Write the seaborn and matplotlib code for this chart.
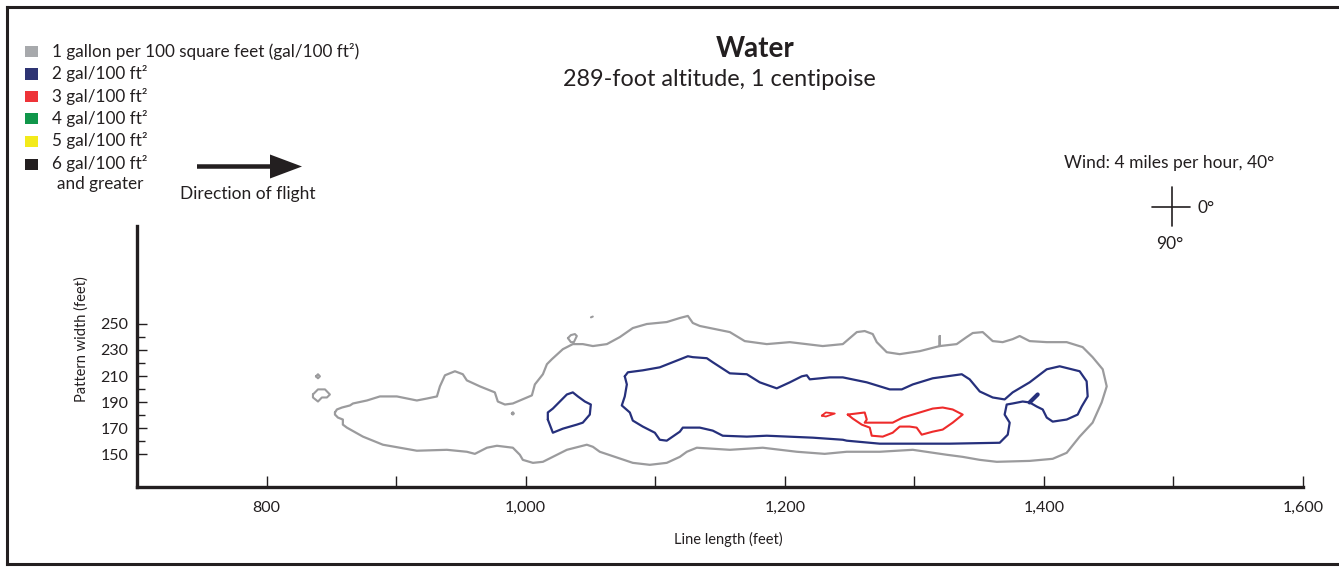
import matplotlib
matplotlib.use("Agg")
import matplotlib.pyplot as plt
from matplotlib.patches import Rectangle, FancyArrow
from matplotlib.lines import Line2D
from matplotlib.ticker import FuncFormatter
import seaborn as sns

# ---------------------------------------------------------------------------
# Deposit contours, (line length ft, pattern width ft)
# ---------------------------------------------------------------------------
gal1_main = [
    (852.8, 182.1), (854.3, 184.4), (858.2, 185.9), (864.4, 187.5), (866.7, 189.0),
    (877.5, 191.3), (887.5, 194.4), (900.6, 194.4), (916.0, 191.3), (923.8, 192.8),
    (931.5, 194.4), (933.8, 202.1), (937.7, 210.6), (945.4, 213.7), (951.5, 211.4),
    (954.6, 206.7), (964.7, 202.1), (976.2, 197.5), (978.5, 190.5), (984.0, 188.2),
    (990.1, 189.0), (1004.8, 195.2), (1007.1, 203.6), (1013.3, 211.4), (1016.4, 219.1),
    (1020.2, 222.9), (1028.7, 230.6), (1036.4, 234.5), (1044.1, 234.5), (1051.9, 233.0),
    (1062.7, 234.5), (1072.7, 239.9), (1082.7, 246.8), (1093.5, 249.9), (1108.9, 251.4),
    (1119.0, 254.5), (1125.2, 256.1), (1129.0, 250.7), (1134.4, 248.4), (1157.6, 243.7),
    (1169.1, 236.8), (1186.1, 234.5), (1203.9, 236.0), (1229.3, 233.0), (1244.8, 234.5),
    (1255.6, 243.7), (1261.7, 244.5), (1267.9, 242.2), (1271.0, 236.0), (1278.7, 228.3),
    (1288.7, 226.8), (1304.2, 229.1), (1319.6, 233.0), (1319.6, 240.7), (1319.6, 233.0),
    (1332.7, 234.5), (1340.4, 239.9), (1345.1, 243.0), (1352.8, 243.7), (1360.5, 236.8),
    (1368.2, 236.0), (1375.9, 238.3), (1381.3, 240.7), (1389.0, 236.8), (1402.2, 236.0),
    (1417.6, 236.0), (1429.9, 232.2), (1437.6, 224.5), (1445.4, 215.2), (1448.5, 202.1),
    (1444.6, 189.8), (1437.6, 174.3), (1427.6, 163.6), (1417.6, 151.2), (1406.8, 146.6),
    (1389.0, 145.0), (1363.6, 144.3), (1350.5, 145.8), (1337.3, 148.1), (1325.0, 149.7),
    (1298.8, 153.5), (1273.3, 152.0), (1247.8, 152.0), (1230.8, 150.4), (1209.3, 152.0),
    (1183.0, 155.1), (1157.6, 153.5), (1132.1, 155.1), (1124.4, 152.0), (1119.0, 148.1),
    (1108.9, 143.5), (1095.8, 142.0), (1082.7, 143.5), (1057.2, 152.0), (1051.9, 155.8),
    (1047.2, 157.4), (1031.8, 153.5), (1013.3, 144.3), (1005.6, 143.5), (997.8, 145.8),
    (995.5, 149.7), (990.1, 155.1), (977.8, 156.6), (970.1, 155.1), (960.8, 150.4),
    (954.6, 152.0), (939.2, 153.5), (916.0, 152.8), (902.9, 155.1), (889.8, 157.4),
    (874.4, 163.6), (862.0, 170.5), (858.9, 172.8), (858.9, 176.7), (855.1, 178.2),
    (852.8, 180.5),
]
gal1_islands = [
    [(835.8, 195.9), (839.7, 199.8), (845.1, 199.8), (848.9, 195.9), (846.6, 193.6),
     (842.7, 193.6), (839.7, 190.5), (835.8, 193.6)],
    [(838.1, 209.8), (839.7, 211.4), (841.2, 209.8), (839.7, 208.3)],
    [(989.3, 181.3), (990.1, 182.3), (990.9, 181.3), (990.1, 180.5)],
    [(1032.6, 239.1), (1034.9, 241.4), (1038.0, 242.2), (1039.5, 240.7), (1037.2, 236.0),
     (1034.9, 236.0)],
    [(1050.4, 255.0), (1051.8, 255.6)],
]

gal2_main = [
    (1076.5, 209.8), (1078.9, 212.9), (1090.4, 214.4), (1103.5, 216.7), (1125.2, 225.2),
    (1129.0, 224.5), (1139.8, 223.7), (1144.4, 220.6), (1157.6, 212.1), (1170.7, 211.4),
    (1180.7, 205.2), (1193.8, 200.6), (1203.9, 205.2), (1213.1, 209.8), (1217.0, 210.6),
    (1219.3, 207.5), (1234.7, 209.0), (1244.8, 209.0), (1263.3, 205.2), (1281.0, 199.8),
    (1290.3, 199.8), (1298.8, 203.6), (1314.2, 208.3), (1336.6, 211.4), (1342.7, 207.5),
    (1350.5, 198.2), (1360.5, 193.6), (1369.7, 192.1), (1375.9, 197.5), (1389.0, 205.2),
    (1402.2, 215.2), (1412.2, 217.5), (1427.6, 213.7), (1433.0, 206.0), (1433.8, 194.4),
    (1429.2, 186.7), (1426.1, 180.5), (1417.6, 176.7), (1406.8, 175.1), (1402.2, 178.2),
    (1399.1, 184.4), (1394.4, 186.7), (1389.0, 189.8), (1383.6, 190.5), (1375.9, 189.0),
    (1371.3, 188.2), (1369.7, 180.5), (1373.6, 174.3), (1372.1, 165.1), (1365.9, 158.9),
    (1327.3, 158.2), (1273.3, 158.2), (1247.8, 160.5), (1244.8, 161.2), (1221.6, 162.8),
    (1186.1, 164.3), (1170.7, 163.6), (1152.1, 164.3), (1144.4, 168.2), (1134.4, 170.5),
    (1121.3, 170.5), (1119.0, 167.4), (1108.9, 160.5), (1103.5, 161.2), (1099.7, 166.6),
    (1090.4, 171.3), (1082.7, 175.9), (1080.4, 182.1), (1074.2, 187.5), (1076.5, 194.4),
    (1078.1, 203.6),
]
gal2_left = [
    (1017.1, 176.7), (1021.0, 166.6), (1028.7, 169.7), (1039.5, 172.8), (1044.1, 174.3),
    (1049.5, 180.5), (1050.3, 188.2), (1045.7, 190.5), (1040.3, 194.4), (1036.4, 197.5),
    (1031.8, 195.9), (1026.4, 190.5), (1021.0, 185.1), (1017.1, 182.1),
]
gal2_stub = [(1389.0, 189.8), (1395.2, 195.9)]

gal3_main = [
    (1248.6, 180.5), (1261.7, 182.1), (1263.3, 176.7), (1261.7, 174.3), (1275.6, 174.3),
    (1283.3, 174.3), (1291.0, 178.2), (1298.8, 180.5), (1314.2, 185.1), (1321.9, 185.9),
    (1329.6, 184.4), (1337.3, 180.5), (1329.6, 174.3), (1321.9, 169.0), (1314.2, 167.4),
    (1305.7, 165.1), (1301.8, 170.5), (1296.4, 171.3), (1288.7, 171.3), (1283.3, 166.6),
    (1275.6, 163.6), (1267.1, 164.3), (1265.6, 170.5), (1259.4, 172.8), (1252.5, 177.4),
]
gal3_small = [(1228.6, 179.7), (1231.7, 182.1), (1238.6, 181.3), (1231.7, 179.0)]

# Axis ticks
x_major = [800, 1000, 1200, 1400, 1600]
x_minor = [900, 1100, 1300, 1500]
y_major = [150, 170, 190, 210, 230, 250]
y_minor = [160, 180, 200, 220, 240]

# Legend
legend_labels = [
    "1 gallon per 100 square feet (gal/100 ft²)",
    "2 gal/100 ft²",
    "3 gal/100 ft²",
    "4 gal/100 ft²",
    "5 gal/100 ft²",
    "6 gal/100 ft²",
]
legend_colors = ["#a7a9ac", "#2e3473", "#ee3338", "#10964a", "#f3ea1a", "#231f20"]

GRAY = "#9b9b9d"
NAVY = "#26307c"
RED = "#ee2b2b"
INK = "#231f20"

# ---------------------------------------------------------------------------
sns.set_theme(style="white")
plt.rcParams["font.family"] = ["Lato", "DejaVu Sans"]

W, H = 1339, 567
fig = plt.figure(figsize=(W / 100, H / 100), dpi=100)
fig.patch.set_facecolor("white")


def fx(px):
    return px / W


def fy(py):
    return 1 - py / H


ax = fig.add_axes([fx(137), fy(487), (1303 - 137) / W, (487 - 226) / H])
ax.set_facecolor("white")


def trace(points, color, lw, closed=True):
    xs = [p[0] for p in points]
    ys = [p[1] for p in points]
    if closed:
        xs.append(xs[0])
        ys.append(ys[0])
    sns.lineplot(x=xs, y=ys, sort=False, estimator=None, color=color,
                 linewidth=lw, ax=ax, legend=False)


trace(gal1_main, GRAY, 1.6)
for isl in gal1_islands[:-1]:
    trace(isl, GRAY, 1.5)
trace(gal1_islands[-1], GRAY, 1.5, closed=False)
trace(gal2_main, NAVY, 1.6)
trace(gal2_left, NAVY, 1.6)
trace(gal2_stub, NAVY, 3.0, closed=False)
trace(gal3_main, RED, 1.5)
trace(gal3_small, RED, 1.3)

ax.set_xlim(700, 1600)
ax.set_ylim(125, 325)

for s in ("top", "right"):
    ax.spines[s].set_visible(False)
for s in ("left", "bottom"):
    ax.spines[s].set_linewidth(2.4)
    ax.spines[s].set_color(INK)

ax.set_xticks(x_major)
ax.set_xticks(x_minor, minor=True)
ax.set_yticks(y_major)
ax.set_yticks(y_minor, minor=True)
ax.xaxis.set_major_formatter(FuncFormatter(lambda v, _: f"{v:,.0f}"))
ax.tick_params(axis="both", which="both", direction="in", bottom=True, left=True,
               color=INK, width=1.0, labelcolor=INK)
ax.tick_params(axis="x", which="both", length=8, pad=10, labelsize=11.5)
ax.tick_params(axis="y", which="major", length=7.5, pad=6, labelsize=11.5)
ax.tick_params(axis="y", which="minor", length=6)

ax.set_xlabel("Line length (feet)", fontsize=10.5, color=INK)
ax.xaxis.set_label_coords((728 - 137) / (1303 - 137), (487 - 532) / (487 - 226))
ax.set_ylabel("Pattern width (feet)", fontsize=10.5, color=INK)
ax.yaxis.set_label_coords((89 - 137) / (1303 - 137), (487 - 339) / (487 - 226))

# Title
fig.text(fx(755), fy(57), "Water", ha="center", va="baseline",
         fontsize=20, fontweight="bold", color=INK)
fig.text(fx(719), fy(86), "289-foot altitude, 1 centipoise", ha="center",
         va="baseline", fontsize=16.8, color=INK)

# Legend
centers = [51.5, 74, 96.7, 118.7, 141.3, 164.3]
for cy, col, lab in zip(centers, legend_colors, legend_labels):
    fig.patches.append(Rectangle((fx(25), fy(cy + 5.5)), 13 / W, 11 / H,
                                 transform=fig.transFigure, facecolor=col,
                                 edgecolor="none"))
    fig.text(fx(52), fy(cy + 5), lab, ha="left", va="baseline",
             fontsize=12.3, color=INK)
fig.text(fx(57), fy(189), "and greater", ha="left", va="baseline",
         fontsize=12.3, color=INK)

# Flight direction arrow
fig.patches.append(FancyArrow(fx(197), fy(166.5), (270 - 197) / W, 0,
                              width=4.5 / H, head_width=24 / H,
                              head_length=32 / W, length_includes_head=False,
                              transform=fig.transFigure, color=INK, lw=0))
fig.text(fx(248), fy(199), "Direction of flight", ha="center", va="baseline",
         fontsize=12.5, color=INK)

# Wind indicator
fig.text(fx(1169), fy(168), "Wind: 4 miles per hour, 40°", ha="center",
         va="baseline", fontsize=12.5, color=INK)
fig.add_artist(Line2D([fx(1152), fx(1190)], [fy(207), fy(207)],
                      transform=fig.transFigure, color=INK, lw=1.2))
fig.add_artist(Line2D([fx(1171.5), fx(1171.5)], [fy(187), fy(226)],
                      transform=fig.transFigure, color=INK, lw=1.2))
fig.text(fx(1197), fy(208), "0°", ha="left", va="center", fontsize=12.5, color=INK)
fig.text(fx(1170), fy(249), "90°", ha="center", va="baseline", fontsize=12.5, color=INK)

# Panel border
for xs, ys in (([7, 7], [7, 564]), ([7, W], [7, 7]), ([7, W], [564, 564])):
    fig.add_artist(Line2D([fx(v) for v in xs], [fy(v) for v in ys],
                          transform=fig.transFigure, color=INK, lw=2.2,
                          solid_capstyle="projecting"))

fig.savefig("out.png", dpi=100, facecolor="white")
